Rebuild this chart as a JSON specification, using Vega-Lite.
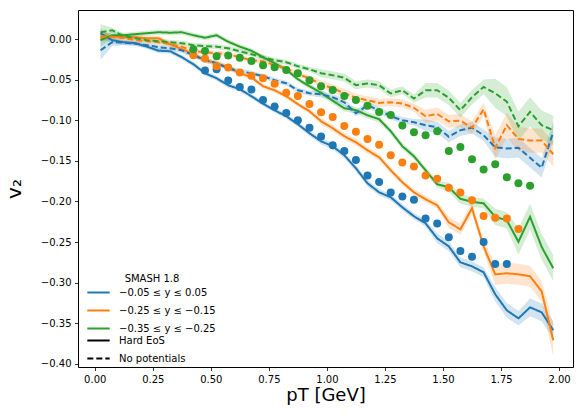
{
  "$schema": "https://vega.github.io/schema/vega-lite/v6.json",
  "autosize": "none",
  "width": 495,
  "height": 357,
  "padding": {"left": 78, "top": 10, "right": 3, "bottom": 51},
  "background": "white",
  "config": {
    "font": "DejaVu Sans",
    "view": {"stroke": "black", "strokeWidth": 1},
    "axis": {"domain": false, "grid": false, "tickColor": "black", "tickSize": 3.5, "tickWidth": 0.8, "labelColor": "black", "labelFont": "DejaVu Sans", "labelFontSize": 10, "labelPadding": 3.5, "titleFont": "DejaVu Sans", "titleFontWeight": "normal", "titleColor": "black", "titleFontSize": 18},
    "legend": {"labelFont": "DejaVu Sans", "labelFontSize": 10, "labelColor": "black", "titleFont": "DejaVu Sans", "titleFontSize": 10, "titleFontWeight": "normal", "titleColor": "black"}
  },
  "datasets": {
    "lines": [
      {"pt":0.025,"v2":0.0074,"e":0.006,"g":"A","m":"H"},
      {"pt":0.075,"v2":-0.0012,"e":0.004,"g":"A","m":"H"},
      {"pt":0.125,"v2":-0.0037,"e":0.003,"g":"A","m":"H"},
      {"pt":0.175,"v2":-0.0049,"e":0.003,"g":"A","m":"H"},
      {"pt":0.225,"v2":-0.0092,"e":0.003,"g":"A","m":"H"},
      {"pt":0.275,"v2":-0.0142,"e":0.003,"g":"A","m":"H"},
      {"pt":0.325,"v2":-0.0148,"e":0.003,"g":"A","m":"H"},
      {"pt":0.375,"v2":-0.0222,"e":0.003,"g":"A","m":"H"},
      {"pt":0.425,"v2":-0.0308,"e":0.003,"g":"A","m":"H"},
      {"pt":0.475,"v2":-0.0419,"e":0.003,"g":"A","m":"H"},
      {"pt":0.525,"v2":-0.0481,"e":0.003,"g":"A","m":"H"},
      {"pt":0.575,"v2":-0.0567,"e":0.003,"g":"A","m":"H"},
      {"pt":0.625,"v2":-0.0617,"e":0.003,"g":"A","m":"H"},
      {"pt":0.675,"v2":-0.0703,"e":0.003,"g":"A","m":"H"},
      {"pt":0.725,"v2":-0.0795,"e":0.003,"g":"A","m":"H"},
      {"pt":0.775,"v2":-0.0876,"e":0.003,"g":"A","m":"H"},
      {"pt":0.825,"v2":-0.0949,"e":0.003,"g":"A","m":"H"},
      {"pt":0.875,"v2":-0.1048,"e":0.003,"g":"A","m":"H"},
      {"pt":0.925,"v2":-0.1159,"e":0.003,"g":"A","m":"H"},
      {"pt":0.975,"v2":-0.1258,"e":0.004,"g":"A","m":"H"},
      {"pt":1.025,"v2":-0.1319,"e":0.004,"g":"A","m":"H"},
      {"pt":1.075,"v2":-0.1430,"e":0.004,"g":"A","m":"H"},
      {"pt":1.125,"v2":-0.1591,"e":0.004,"g":"A","m":"H"},
      {"pt":1.175,"v2":-0.1776,"e":0.004,"g":"A","m":"H"},
      {"pt":1.225,"v2":-0.1887,"e":0.004,"g":"A","m":"H"},
      {"pt":1.275,"v2":-0.1948,"e":0.004,"g":"A","m":"H"},
      {"pt":1.325,"v2":-0.2072,"e":0.004,"g":"A","m":"H"},
      {"pt":1.375,"v2":-0.2182,"e":0.004,"g":"A","m":"H"},
      {"pt":1.425,"v2":-0.2269,"e":0.004,"g":"A","m":"H"},
      {"pt":1.475,"v2":-0.2454,"e":0.006,"g":"A","m":"H"},
      {"pt":1.525,"v2":-0.2553,"e":0.006,"g":"A","m":"H"},
      {"pt":1.575,"v2":-0.2750,"e":0.006,"g":"A","m":"H"},
      {"pt":1.625,"v2":-0.2799,"e":0.006,"g":"A","m":"H"},
      {"pt":1.675,"v2":-0.2873,"e":0.006,"g":"A","m":"H"},
      {"pt":1.725,"v2":-0.3144,"e":0.009,"g":"A","m":"H"},
      {"pt":1.775,"v2":-0.3342,"e":0.009,"g":"A","m":"H"},
      {"pt":1.825,"v2":-0.3440,"e":0.009,"g":"A","m":"H"},
      {"pt":1.875,"v2":-0.3305,"e":0.011,"g":"A","m":"H"},
      {"pt":1.925,"v2":-0.3366,"e":0.011,"g":"A","m":"H"},
      {"pt":1.975,"v2":-0.3588,"e":0.011,"g":"A","m":"H"},

      {"pt":0.025,"v2":0.0012,"e":0.005,"g":"B","m":"H"},
      {"pt":0.075,"v2":0.0037,"e":0.003,"g":"B","m":"H"},
      {"pt":0.125,"v2":0.0025,"e":0.003,"g":"B","m":"H"},
      {"pt":0.175,"v2":0.0025,"e":0.003,"g":"B","m":"H"},
      {"pt":0.225,"v2":0.0012,"e":0.003,"g":"B","m":"H"},
      {"pt":0.275,"v2":0.0012,"e":0.003,"g":"B","m":"H"},
      {"pt":0.325,"v2":-0.0062,"e":0.003,"g":"B","m":"H"},
      {"pt":0.375,"v2":-0.0123,"e":0.003,"g":"B","m":"H"},
      {"pt":0.425,"v2":-0.0185,"e":0.003,"g":"B","m":"H"},
      {"pt":0.475,"v2":-0.0259,"e":0.003,"g":"B","m":"H"},
      {"pt":0.525,"v2":-0.0296,"e":0.003,"g":"B","m":"H"},
      {"pt":0.575,"v2":-0.0345,"e":0.003,"g":"B","m":"H"},
      {"pt":0.625,"v2":-0.0419,"e":0.003,"g":"B","m":"H"},
      {"pt":0.675,"v2":-0.0469,"e":0.003,"g":"B","m":"H"},
      {"pt":0.725,"v2":-0.0580,"e":0.003,"g":"B","m":"H"},
      {"pt":0.775,"v2":-0.0629,"e":0.003,"g":"B","m":"H"},
      {"pt":0.825,"v2":-0.0703,"e":0.003,"g":"B","m":"H"},
      {"pt":0.875,"v2":-0.0801,"e":0.003,"g":"B","m":"H"},
      {"pt":0.925,"v2":-0.0888,"e":0.003,"g":"B","m":"H"},
      {"pt":0.975,"v2":-0.1011,"e":0.004,"g":"B","m":"H"},
      {"pt":1.025,"v2":-0.1097,"e":0.004,"g":"B","m":"H"},
      {"pt":1.075,"v2":-0.1196,"e":0.004,"g":"B","m":"H"},
      {"pt":1.125,"v2":-0.1270,"e":0.004,"g":"B","m":"H"},
      {"pt":1.175,"v2":-0.1369,"e":0.004,"g":"B","m":"H"},
      {"pt":1.225,"v2":-0.1455,"e":0.004,"g":"B","m":"H"},
      {"pt":1.275,"v2":-0.1615,"e":0.004,"g":"B","m":"H"},
      {"pt":1.325,"v2":-0.1763,"e":0.004,"g":"B","m":"H"},
      {"pt":1.375,"v2":-0.1887,"e":0.004,"g":"B","m":"H"},
      {"pt":1.425,"v2":-0.1973,"e":0.004,"g":"B","m":"H"},
      {"pt":1.475,"v2":-0.2047,"e":0.004,"g":"B","m":"H"},
      {"pt":1.525,"v2":-0.2257,"e":0.007,"g":"B","m":"H"},
      {"pt":1.575,"v2":-0.2343,"e":0.007,"g":"B","m":"H"},
      {"pt":1.625,"v2":-0.2084,"e":0.007,"g":"B","m":"H"},
      {"pt":1.675,"v2":-0.2552,"e":0.007,"g":"B","m":"H"},
      {"pt":1.725,"v2":-0.2898,"e":0.013,"g":"B","m":"H"},
      {"pt":1.775,"v2":-0.2885,"e":0.013,"g":"B","m":"H"},
      {"pt":1.825,"v2":-0.2898,"e":0.013,"g":"B","m":"H"},
      {"pt":1.875,"v2":-0.2922,"e":0.013,"g":"B","m":"H"},
      {"pt":1.925,"v2":-0.3107,"e":0.013,"g":"B","m":"H"},
      {"pt":1.975,"v2":-0.3711,"e":0.02,"g":"B","m":"H"},

      {"pt":0.025,"v2":-0.0012,"e":0.008,"g":"C","m":"H"},
      {"pt":0.075,"v2":0.0049,"e":0.004,"g":"C","m":"H"},
      {"pt":0.125,"v2":0.0049,"e":0.003,"g":"C","m":"H"},
      {"pt":0.175,"v2":0.0062,"e":0.003,"g":"C","m":"H"},
      {"pt":0.225,"v2":0.0074,"e":0.003,"g":"C","m":"H"},
      {"pt":0.275,"v2":0.0086,"e":0.003,"g":"C","m":"H"},
      {"pt":0.325,"v2":0.0080,"e":0.003,"g":"C","m":"H"},
      {"pt":0.375,"v2":0.0086,"e":0.003,"g":"C","m":"H"},
      {"pt":0.425,"v2":0.0049,"e":0.003,"g":"C","m":"H"},
      {"pt":0.475,"v2":0.0018,"e":0.003,"g":"C","m":"H"},
      {"pt":0.525,"v2":0.0049,"e":0.003,"g":"C","m":"H"},
      {"pt":0.575,"v2":-0.0031,"e":0.003,"g":"C","m":"H"},
      {"pt":0.625,"v2":-0.0092,"e":0.003,"g":"C","m":"H"},
      {"pt":0.675,"v2":-0.0142,"e":0.003,"g":"C","m":"H"},
      {"pt":0.725,"v2":-0.0222,"e":0.003,"g":"C","m":"H"},
      {"pt":0.775,"v2":-0.0296,"e":0.003,"g":"C","m":"H"},
      {"pt":0.825,"v2":-0.0376,"e":0.003,"g":"C","m":"H"},
      {"pt":0.875,"v2":-0.0493,"e":0.003,"g":"C","m":"H"},
      {"pt":0.925,"v2":-0.0580,"e":0.003,"g":"C","m":"H"},
      {"pt":0.975,"v2":-0.0660,"e":0.004,"g":"C","m":"H"},
      {"pt":1.025,"v2":-0.0758,"e":0.004,"g":"C","m":"H"},
      {"pt":1.075,"v2":-0.0851,"e":0.004,"g":"C","m":"H"},
      {"pt":1.125,"v2":-0.0875,"e":0.004,"g":"C","m":"H"},
      {"pt":1.175,"v2":-0.0937,"e":0.004,"g":"C","m":"H"},
      {"pt":1.225,"v2":-0.0986,"e":0.004,"g":"C","m":"H"},
      {"pt":1.275,"v2":-0.1134,"e":0.004,"g":"C","m":"H"},
      {"pt":1.325,"v2":-0.1319,"e":0.004,"g":"C","m":"H"},
      {"pt":1.375,"v2":-0.1443,"e":0.004,"g":"C","m":"H"},
      {"pt":1.425,"v2":-0.1615,"e":0.004,"g":"C","m":"H"},
      {"pt":1.475,"v2":-0.1788,"e":0.004,"g":"C","m":"H"},
      {"pt":1.525,"v2":-0.1825,"e":0.006,"g":"C","m":"H"},
      {"pt":1.575,"v2":-0.1967,"e":0.006,"g":"C","m":"H"},
      {"pt":1.625,"v2":-0.2004,"e":0.006,"g":"C","m":"H"},
      {"pt":1.675,"v2":-0.2022,"e":0.006,"g":"C","m":"H"},
      {"pt":1.725,"v2":-0.2189,"e":0.01,"g":"C","m":"H"},
      {"pt":1.775,"v2":-0.2232,"e":0.01,"g":"C","m":"H"},
      {"pt":1.825,"v2":-0.2497,"e":0.016,"g":"C","m":"H"},
      {"pt":1.875,"v2":-0.2189,"e":0.016,"g":"C","m":"H"},
      {"pt":1.925,"v2":-0.2559,"e":0.016,"g":"C","m":"H"},
      {"pt":1.975,"v2":-0.2824,"e":0.016,"g":"C","m":"H"},

      {"pt":0.025,"v2":-0.0136,"e":0.012,"g":"A","m":"N"},
      {"pt":0.075,"v2":-0.0037,"e":0.005,"g":"A","m":"N"},
      {"pt":0.125,"v2":-0.0043,"e":0.003,"g":"A","m":"N"},
      {"pt":0.175,"v2":-0.0055,"e":0.003,"g":"A","m":"N"},
      {"pt":0.225,"v2":-0.0074,"e":0.003,"g":"A","m":"N"},
      {"pt":0.275,"v2":-0.0099,"e":0.003,"g":"A","m":"N"},
      {"pt":0.325,"v2":-0.0111,"e":0.003,"g":"A","m":"N"},
      {"pt":0.375,"v2":-0.0136,"e":0.003,"g":"A","m":"N"},
      {"pt":0.425,"v2":-0.0197,"e":0.003,"g":"A","m":"N"},
      {"pt":0.475,"v2":-0.0259,"e":0.003,"g":"A","m":"N"},
      {"pt":0.525,"v2":-0.0296,"e":0.003,"g":"A","m":"N"},
      {"pt":0.575,"v2":-0.0358,"e":0.003,"g":"A","m":"N"},
      {"pt":0.625,"v2":-0.0395,"e":0.003,"g":"A","m":"N"},
      {"pt":0.675,"v2":-0.0419,"e":0.003,"g":"A","m":"N"},
      {"pt":0.725,"v2":-0.0456,"e":0.003,"g":"A","m":"N"},
      {"pt":0.775,"v2":-0.0506,"e":0.003,"g":"A","m":"N"},
      {"pt":0.825,"v2":-0.0543,"e":0.003,"g":"A","m":"N"},
      {"pt":0.875,"v2":-0.0629,"e":0.003,"g":"A","m":"N"},
      {"pt":0.925,"v2":-0.0666,"e":0.003,"g":"A","m":"N"},
      {"pt":0.975,"v2":-0.0678,"e":0.004,"g":"A","m":"N"},
      {"pt":1.025,"v2":-0.0715,"e":0.004,"g":"A","m":"N"},
      {"pt":1.075,"v2":-0.0777,"e":0.004,"g":"A","m":"N"},
      {"pt":1.125,"v2":-0.0913,"e":0.004,"g":"A","m":"N"},
      {"pt":1.175,"v2":-0.0814,"e":0.004,"g":"A","m":"N"},
      {"pt":1.225,"v2":-0.0875,"e":0.004,"g":"A","m":"N"},
      {"pt":1.275,"v2":-0.0949,"e":0.004,"g":"A","m":"N"},
      {"pt":1.325,"v2":-0.0999,"e":0.004,"g":"A","m":"N"},
      {"pt":1.375,"v2":-0.1023,"e":0.004,"g":"A","m":"N"},
      {"pt":1.425,"v2":-0.1060,"e":0.007,"g":"A","m":"N"},
      {"pt":1.475,"v2":-0.1085,"e":0.007,"g":"A","m":"N"},
      {"pt":1.525,"v2":-0.1202,"e":0.007,"g":"A","m":"N"},
      {"pt":1.575,"v2":-0.1122,"e":0.007,"g":"A","m":"N"},
      {"pt":1.625,"v2":-0.1091,"e":0.007,"g":"A","m":"N"},
      {"pt":1.675,"v2":-0.1184,"e":0.007,"g":"A","m":"N"},
      {"pt":1.725,"v2":-0.1332,"e":0.012,"g":"A","m":"N"},
      {"pt":1.775,"v2":-0.1348,"e":0.012,"g":"A","m":"N"},
      {"pt":1.825,"v2":-0.1338,"e":0.012,"g":"A","m":"N"},
      {"pt":1.875,"v2":-0.1461,"e":0.012,"g":"A","m":"N"},
      {"pt":1.925,"v2":-0.1584,"e":0.012,"g":"A","m":"N"},
      {"pt":1.975,"v2":-0.1143,"e":0.012,"g":"A","m":"N"},

      {"pt":0.025,"v2":0.0037,"e":0.006,"g":"B","m":"N"},
      {"pt":0.075,"v2":0.0031,"e":0.003,"g":"B","m":"N"},
      {"pt":0.125,"v2":0.0012,"e":0.003,"g":"B","m":"N"},
      {"pt":0.175,"v2":-0.0012,"e":0.003,"g":"B","m":"N"},
      {"pt":0.225,"v2":-0.0025,"e":0.003,"g":"B","m":"N"},
      {"pt":0.275,"v2":-0.0037,"e":0.003,"g":"B","m":"N"},
      {"pt":0.325,"v2":-0.0062,"e":0.003,"g":"B","m":"N"},
      {"pt":0.375,"v2":-0.0092,"e":0.003,"g":"B","m":"N"},
      {"pt":0.425,"v2":-0.0148,"e":0.003,"g":"B","m":"N"},
      {"pt":0.475,"v2":-0.0160,"e":0.003,"g":"B","m":"N"},
      {"pt":0.525,"v2":-0.0173,"e":0.003,"g":"B","m":"N"},
      {"pt":0.575,"v2":-0.0185,"e":0.003,"g":"B","m":"N"},
      {"pt":0.625,"v2":-0.0222,"e":0.003,"g":"B","m":"N"},
      {"pt":0.675,"v2":-0.0259,"e":0.003,"g":"B","m":"N"},
      {"pt":0.725,"v2":-0.0271,"e":0.003,"g":"B","m":"N"},
      {"pt":0.775,"v2":-0.0321,"e":0.003,"g":"B","m":"N"},
      {"pt":0.825,"v2":-0.0358,"e":0.003,"g":"B","m":"N"},
      {"pt":0.875,"v2":-0.0432,"e":0.003,"g":"B","m":"N"},
      {"pt":0.925,"v2":-0.0481,"e":0.003,"g":"B","m":"N"},
      {"pt":0.975,"v2":-0.0555,"e":0.005,"g":"B","m":"N"},
      {"pt":1.025,"v2":-0.0604,"e":0.005,"g":"B","m":"N"},
      {"pt":1.075,"v2":-0.0666,"e":0.005,"g":"B","m":"N"},
      {"pt":1.125,"v2":-0.0721,"e":0.005,"g":"B","m":"N"},
      {"pt":1.175,"v2":-0.0752,"e":0.005,"g":"B","m":"N"},
      {"pt":1.225,"v2":-0.0785,"e":0.005,"g":"B","m":"N"},
      {"pt":1.275,"v2":-0.0777,"e":0.005,"g":"B","m":"N"},
      {"pt":1.325,"v2":-0.0793,"e":0.005,"g":"B","m":"N"},
      {"pt":1.375,"v2":-0.0845,"e":0.005,"g":"B","m":"N"},
      {"pt":1.425,"v2":-0.0949,"e":0.008,"g":"B","m":"N"},
      {"pt":1.475,"v2":-0.0921,"e":0.008,"g":"B","m":"N"},
      {"pt":1.525,"v2":-0.1011,"e":0.008,"g":"B","m":"N"},
      {"pt":1.575,"v2":-0.1005,"e":0.008,"g":"B","m":"N"},
      {"pt":1.625,"v2":-0.1091,"e":0.008,"g":"B","m":"N"},
      {"pt":1.675,"v2":-0.0863,"e":0.008,"g":"B","m":"N"},
      {"pt":1.725,"v2":-0.1338,"e":0.015,"g":"B","m":"N"},
      {"pt":1.775,"v2":-0.1060,"e":0.015,"g":"B","m":"N"},
      {"pt":1.825,"v2":-0.1229,"e":0.015,"g":"B","m":"N"},
      {"pt":1.875,"v2":-0.1249,"e":0.015,"g":"B","m":"N"},
      {"pt":1.925,"v2":-0.1249,"e":0.015,"g":"B","m":"N"},
      {"pt":1.975,"v2":-0.1418,"e":0.015,"g":"B","m":"N"},

      {"pt":0.025,"v2":0.0086,"e":0.01,"g":"C","m":"N"},
      {"pt":0.075,"v2":0.0111,"e":0.003,"g":"C","m":"N"},
      {"pt":0.125,"v2":0.0037,"e":0.003,"g":"C","m":"N"},
      {"pt":0.175,"v2":0.0012,"e":0.003,"g":"C","m":"N"},
      {"pt":0.225,"v2":-0.0012,"e":0.003,"g":"C","m":"N"},
      {"pt":0.275,"v2":-0.0025,"e":0.003,"g":"C","m":"N"},
      {"pt":0.325,"v2":-0.0037,"e":0.003,"g":"C","m":"N"},
      {"pt":0.375,"v2":-0.0049,"e":0.003,"g":"C","m":"N"},
      {"pt":0.425,"v2":-0.0074,"e":0.003,"g":"C","m":"N"},
      {"pt":0.475,"v2":-0.0086,"e":0.003,"g":"C","m":"N"},
      {"pt":0.525,"v2":-0.0092,"e":0.003,"g":"C","m":"N"},
      {"pt":0.575,"v2":-0.0111,"e":0.003,"g":"C","m":"N"},
      {"pt":0.625,"v2":-0.0148,"e":0.003,"g":"C","m":"N"},
      {"pt":0.675,"v2":-0.0185,"e":0.003,"g":"C","m":"N"},
      {"pt":0.725,"v2":-0.0222,"e":0.003,"g":"C","m":"N"},
      {"pt":0.775,"v2":-0.0259,"e":0.003,"g":"C","m":"N"},
      {"pt":0.825,"v2":-0.0284,"e":0.003,"g":"C","m":"N"},
      {"pt":0.875,"v2":-0.0333,"e":0.003,"g":"C","m":"N"},
      {"pt":0.925,"v2":-0.0370,"e":0.003,"g":"C","m":"N"},
      {"pt":0.975,"v2":-0.0419,"e":0.005,"g":"C","m":"N"},
      {"pt":1.025,"v2":-0.0444,"e":0.005,"g":"C","m":"N"},
      {"pt":1.075,"v2":-0.0475,"e":0.005,"g":"C","m":"N"},
      {"pt":1.125,"v2":-0.0567,"e":0.005,"g":"C","m":"N"},
      {"pt":1.175,"v2":-0.0546,"e":0.005,"g":"C","m":"N"},
      {"pt":1.225,"v2":-0.0567,"e":0.005,"g":"C","m":"N"},
      {"pt":1.275,"v2":-0.0669,"e":0.005,"g":"C","m":"N"},
      {"pt":1.325,"v2":-0.0629,"e":0.005,"g":"C","m":"N"},
      {"pt":1.375,"v2":-0.0731,"e":0.005,"g":"C","m":"N"},
      {"pt":1.425,"v2":-0.0629,"e":0.009,"g":"C","m":"N"},
      {"pt":1.475,"v2":-0.0629,"e":0.009,"g":"C","m":"N"},
      {"pt":1.525,"v2":-0.0721,"e":0.009,"g":"C","m":"N"},
      {"pt":1.575,"v2":-0.0875,"e":0.009,"g":"C","m":"N"},
      {"pt":1.625,"v2":-0.0715,"e":0.009,"g":"C","m":"N"},
      {"pt":1.675,"v2":-0.0588,"e":0.009,"g":"C","m":"N"},
      {"pt":1.725,"v2":-0.0666,"e":0.018,"g":"C","m":"N"},
      {"pt":1.775,"v2":-0.0771,"e":0.018,"g":"C","m":"N"},
      {"pt":1.825,"v2":-0.1073,"e":0.018,"g":"C","m":"N"},
      {"pt":1.875,"v2":-0.0896,"e":0.018,"g":"C","m":"N"},
      {"pt":1.925,"v2":-0.1060,"e":0.018,"g":"C","m":"N"},
      {"pt":1.975,"v2":-0.1122,"e":0.018,"g":"C","m":"N"}
    ],
    "dots": [
      {"pt":0.475,"v2":-0.0386,"g":"A"},
      {"pt":0.525,"v2":-0.037,"g":"A"},
      {"pt":0.575,"v2":-0.051,"g":"A"},
      {"pt":0.625,"v2":-0.059,"g":"A"},
      {"pt":0.675,"v2":-0.062,"g":"A"},
      {"pt":0.725,"v2":-0.075,"g":"A"},
      {"pt":0.775,"v2":-0.083,"g":"A"},
      {"pt":0.825,"v2":-0.091,"g":"A"},
      {"pt":0.875,"v2":-0.100,"g":"A"},
      {"pt":0.925,"v2":-0.109,"g":"A"},
      {"pt":0.975,"v2":-0.120,"g":"A"},
      {"pt":1.025,"v2":-0.1307,"g":"A"},
      {"pt":1.075,"v2":-0.1377,"g":"A"},
      {"pt":1.125,"v2":-0.149,"g":"A"},
      {"pt":1.175,"v2":-0.168,"g":"A"},
      {"pt":1.225,"v2":-0.176,"g":"A"},
      {"pt":1.275,"v2":-0.189,"g":"A"},
      {"pt":1.325,"v2":-0.194,"g":"A"},
      {"pt":1.375,"v2":-0.198,"g":"A"},
      {"pt":1.425,"v2":-0.221,"g":"A"},
      {"pt":1.475,"v2":-0.227,"g":"A"},
      {"pt":1.525,"v2":-0.244,"g":"A"},
      {"pt":1.575,"v2":-0.261,"g":"A"},
      {"pt":1.625,"v2":-0.268,"g":"A"},
      {"pt":1.675,"v2":-0.250,"g":"A"},
      {"pt":1.725,"v2":-0.277,"g":"A"},
      {"pt":1.775,"v2":-0.277,"g":"A"},

      {"pt":0.425,"v2":-0.0197,"g":"B"},
      {"pt":0.475,"v2":-0.0238,"g":"B"},
      {"pt":0.525,"v2":-0.0333,"g":"B"},
      {"pt":0.575,"v2":-0.035,"g":"B"},
      {"pt":0.625,"v2":-0.041,"g":"B"},
      {"pt":0.675,"v2":-0.045,"g":"B"},
      {"pt":0.725,"v2":-0.048,"g":"B"},
      {"pt":0.775,"v2":-0.055,"g":"B"},
      {"pt":0.825,"v2":-0.066,"g":"B"},
      {"pt":0.875,"v2":-0.070,"g":"B"},
      {"pt":0.925,"v2":-0.080,"g":"B"},
      {"pt":0.975,"v2":-0.090,"g":"B"},
      {"pt":1.025,"v2":-0.096,"g":"B"},
      {"pt":1.075,"v2":-0.107,"g":"B"},
      {"pt":1.125,"v2":-0.114,"g":"B"},
      {"pt":1.175,"v2":-0.123,"g":"B"},
      {"pt":1.225,"v2":-0.130,"g":"B"},
      {"pt":1.275,"v2":-0.143,"g":"B"},
      {"pt":1.325,"v2":-0.152,"g":"B"},
      {"pt":1.375,"v2":-0.157,"g":"B"},
      {"pt":1.425,"v2":-0.168,"g":"B"},
      {"pt":1.475,"v2":-0.172,"g":"B"},
      {"pt":1.525,"v2":-0.183,"g":"B"},
      {"pt":1.575,"v2":-0.189,"g":"B"},
      {"pt":1.625,"v2":-0.1985,"g":"B"},
      {"pt":1.675,"v2":-0.218,"g":"B"},
      {"pt":1.725,"v2":-0.220,"g":"B"},
      {"pt":1.775,"v2":-0.221,"g":"B"},
      {"pt":1.825,"v2":-0.234,"g":"B"},

      {"pt":0.425,"v2":-0.0123,"g":"C"},
      {"pt":0.475,"v2":-0.0144,"g":"C"},
      {"pt":0.525,"v2":-0.021,"g":"C"},
      {"pt":0.575,"v2":-0.020,"g":"C"},
      {"pt":0.625,"v2":-0.023,"g":"C"},
      {"pt":0.675,"v2":-0.027,"g":"C"},
      {"pt":0.725,"v2":-0.032,"g":"C"},
      {"pt":0.775,"v2":-0.0345,"g":"C"},
      {"pt":0.825,"v2":-0.038,"g":"C"},
      {"pt":0.875,"v2":-0.042,"g":"C"},
      {"pt":0.925,"v2":-0.0506,"g":"C"},
      {"pt":0.975,"v2":-0.058,"g":"C"},
      {"pt":1.025,"v2":-0.0625,"g":"C"},
      {"pt":1.075,"v2":-0.070,"g":"C"},
      {"pt":1.125,"v2":-0.075,"g":"C"},
      {"pt":1.175,"v2":-0.082,"g":"C"},
      {"pt":1.225,"v2":-0.0896,"g":"C"},
      {"pt":1.275,"v2":-0.0934,"g":"C"},
      {"pt":1.325,"v2":-0.1064,"g":"C"},
      {"pt":1.375,"v2":-0.1147,"g":"C"},
      {"pt":1.425,"v2":-0.1184,"g":"C"},
      {"pt":1.475,"v2":-0.1134,"g":"C"},
      {"pt":1.525,"v2":-0.1377,"g":"C"},
      {"pt":1.575,"v2":-0.1328,"g":"C"},
      {"pt":1.625,"v2":-0.148,"g":"C"},
      {"pt":1.675,"v2":-0.1605,"g":"C"},
      {"pt":1.725,"v2":-0.154,"g":"C"},
      {"pt":1.775,"v2":-0.170,"g":"C"},
      {"pt":1.825,"v2":-0.1776,"g":"C"},
      {"pt":1.875,"v2":-0.1806,"g":"C"}
    ]
  },
  "encoding": {
    "x": {"field": "pt", "type": "quantitative", "scale": {"domain": [-0.072, 2.06], "nice": false, "zero": false},
      "axis": {"values": [0, 0.25, 0.5, 0.75, 1, 1.25, 1.5, 1.75, 2], "format": ".2f", "title": "pT [GeV]", "titlePadding": 2, "labelFlush": false}},
    "y": {"field": "v2", "type": "quantitative", "scale": {"domain": [-0.404, 0.036], "nice": false, "zero": false},
      "axis": {"values": [-0.4, -0.35, -0.3, -0.25, -0.2, -0.15, -0.1, -0.05, 0], "format": ".2f", "title": "v₂", "titlePadding": 16, "titleFontSize": 20}},
    "color": {"field": "g", "type": "nominal",
      "scale": {"domain": ["A", "B", "C"], "range": ["#1f77b4", "#ff7f0e", "#2ca02c"]},
      "legend": {"title": "SMASH 1.8", "orient": "none", "legendX": 8, "legendY": 264, "symbolType": "stroke", "symbolStrokeWidth": 2, "symbolSize": 500, "symbolOpacity": 1, "labelOffset": 8, "labelExpr": "datum.value == 'A' ? '−0.05 ≤ y ≤ 0.05' : datum.value == 'B' ? '−0.25 ≤ y ≤  −0.15' : '−0.35 ≤ y ≤  −0.25'", "titleAnchor": "middle", "rowPadding": -6.5, "titlePadding": -4}}
  },
  "layer": [
    {
      "data": {"name": "lines"},
      "mark": {"type": "errorband", "opacity": 0.2},
      "encoding": {"yError": {"field": "e"}, "detail": {"field": "m"}}
    },
    {
      "data": {"name": "lines"},
      "mark": {"type": "line", "strokeWidth": 2},
      "encoding": {
        "strokeDash": {"field": "m", "type": "nominal", "scale": {"domain": ["H", "N"], "range": [[1, 0], [6, 3]]},
          "legend": {"title": null, "orient": "none", "legendX": 8, "legendY": 318, "symbolType": "stroke", "symbolStrokeColor": "black", "symbolStrokeWidth": 2, "symbolSize": 500, "labelOffset": 8, "labelExpr": "datum.value == 'H' ? 'Hard EoS' : 'No potentials'", "rowPadding": -6.5}}
      }
    },
    {
      "data": {"name": "dots"},
      "mark": {"type": "circle", "size": 64, "opacity": 1}
    }
  ]
}
